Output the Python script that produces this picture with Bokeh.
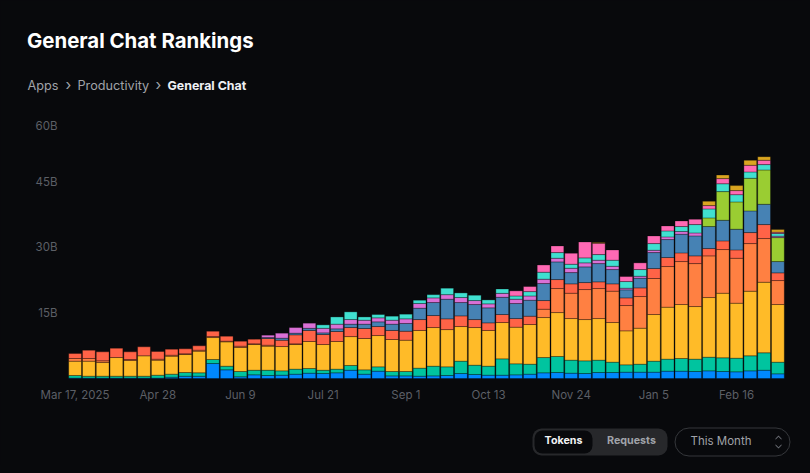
from bokeh.plotting import figure
from bokeh.models import ColumnDataSource, Range1d, FixedTicker, Label, BoxAnnotation, PolyAnnotation
from bokeh.embed import file_html
from bokeh.resources import INLINE
import numpy as np

BG = "#08090c"

# x axis, one bar per week
x_tick_pos = [0, 6, 12, 18, 24, 30, 36, 42, 48]
x_tick_labels = ["Mar 17, 2025", "Apr 28", "Jun 9", "Jul 21", "Sep 1", "Oct 13", "Nov 24", "Jan 5", "Feb 16"]
y_tick_pos = [15, 30, 45, 57.9]  # the top label sits lower than 60 in the original
y_tick_labels = ["15B", "30B", "45B", "60B"]

# top of each stacked segment, in billions of tokens
blue_top = [.1,.1,.1,.1,.1,.1,.1,.3,.53,.53,3.43,1.98,.38,.84,.69,.76,.99,1.22,1.14,1.3,1.9,.99,1.68,.6,.6,.53,.6,.69,1.14,.92,.76,.76,.84,.99,1.3,1.37,1.22,1.14,1.37,1.37,1.45,1.45,1.45,1.68,1.68,1.6,1.75,1.6,1.53,1.75,1.9,1.07]
teal_top = [.69,.53,.53,.53,.53,.53,.76,1.0,1.37,1.3,4.35,2.82,1.6,1.9,1.9,1.75,2.14,2.29,1.9,2.14,2.98,1.98,2.67,1.6,1.6,2.37,2.82,2.67,3.97,3.05,2.82,4.5,3.36,3.28,4.8,5.04,4.2,4.04,4.2,3.74,3.13,3.28,3.97,4.43,4.58,4.43,4.88,4.73,4.65,5.19,5.88,3.74]
yellow_top = [3.97,3.97,3.66,4.8,4.12,5.19,4.2,5.11,5.49,6.26,9.38,8.39,7.1,7.78,7.4,7.32,7.78,8.47,7.78,8.47,9.6,9.16,9.84,8.93,8.77,11.0,11.67,11.2,11.9,11.67,11.0,12.82,11.75,12.36,13.96,15.1,13.73,13.5,13.73,12.82,10.91,11.52,14.65,16.33,16.94,16.48,18.54,19.53,17.24,20.0,22.05,16.94]
orange_top = [4.58,4.58,4.04,4.8,4.35,5.19,4.43,5.34,5.65,6.49,9.6,8.55,7.4,7.94,7.63,7.32,7.94,8.47,7.78,8.47,9.6,9.16,9.84,8.93,8.77,11.0,11.67,11.2,11.9,11.67,11.0,12.82,11.75,12.36,15.87,20.6,19.53,20.37,20.6,20.0,16.71,18.77,22.9,25.64,26.78,26.32,28.08,29.53,27.54,30.9,32.05,22.43]
red_top = [5.72,6.49,6.1,6.94,6.1,7.25,6.18,6.71,6.79,7.48,10.83,9.69,8.55,9.0,9.16,8.77,10.0,11.0,10.07,10.76,11.67,11.45,11.9,11.0,10.83,13.5,14.42,13.66,14.34,13.5,12.74,14.65,13.73,14.27,17.85,22.66,21.67,21.97,22.13,21.67,18.46,20.75,25.18,27.7,28.76,28.08,29.76,31.51,29.45,33.42,35.25,24.19]
steel_top = red_top[:14] + [9.38,9.23,10.38,11.5,10.45,11.37,12.44,12.44,12.97,12.44,12.6,16.1,17.4,18.16,17.4,16.94,16.18,18.6,17.17,17.93,21.75,26.7,24.26,25.56,26.32,24.95,20.3,22.97,28.84,31.82,33.04,32.66,34.8,36.24,34.18,38.38,39.9,26.78]
green_top = steel_top[:46] + [36.78,42.8,40.44,45.86,47.76,32.27]
orchid_top = red_top[:14] + [9.92,10.38,11.67,12.67,11.5,12.44,13.5,13.35,13.89,13.35,13.66,17.17,18.46,19.2,18.54,17.85,17.09,19.5,18.16,18.9,22.74,27.54,25.25,26.48,27.09,25.7,20.68,23.42,29.37,32.43,33.65,33.34,36.78,42.8,40.44,45.86,47.76,32.6]
turq_top = red_top[:14] + [9.92,10.38,11.67,12.67,12.28,14.1,15.26,14.1,14.65,14.27,14.73,17.93,19.2,20.68,19.6,19.07,18.0,20.5,18.9,19.9,24.34,28.84,26.17,27.62,28.38,27.09,22.2,24.95,30.9,33.8,34.8,35.25,38.84,44.6,42.1,47.3,48.98,33.2]
pink_top = turq_top[:32] + [20.07,21.06,26.0,30.37,28.69,31.28,30.98,29.45,23.35,26.48,32.66,34.95,36.09,36.47,39.6,45.78,43.03,48.83,49.98,33.5]
gold_top = pink_top[:38] + [31.13] + pink_top[39:46] + [40.6,46.6,44.18,49.98,50.8,34.1]

series = [
    ("#0088FE", [0] * 52, blue_top),
    ("#00C49F", blue_top, teal_top),
    ("#FFBB28", teal_top, yellow_top),
    ("#FF8042", yellow_top, orange_top),
    ("#FF6347", orange_top, red_top),
    ("#4682B4", red_top, steel_top),
    ("#9ACD32", steel_top, green_top),
    ("#DA70D6", green_top, orchid_top),
    ("#40E0D0", orchid_top, turq_top),
    ("#FF69B4", turq_top, pink_top),
    ("#DAA520", pink_top, gold_top),
]

W, H = 802, 465
BAR_STEP = 13.78   # px per week
PX_PER_B = 4.3667
X0, Y0 = 74.6, 378  # page position of week 0 and of value 0

# the frame fills the whole figure so that the header and buttons can sit in it
p = figure(width=W, height=H, output_backend="svg", toolbar_location=None, min_border=0,
           x_range=Range1d(-X0 / BAR_STEP, (W - X0) / BAR_STEP),
           y_range=Range1d((Y0 - H) / PX_PER_B, Y0 / PX_PER_B))
p.background_fill_color = BG
p.border_fill_color = BG
p.outline_line_color = None
p.grid.visible = False

for color, bottom, top in series:
    bottom = np.array(bottom)
    top = np.array(top)
    keep = top > bottom  # a series can be absent from a week
    src = ColumnDataSource(dict(x=np.arange(52)[keep], bottom=bottom[keep], top=top[keep]))
    p.vbar(x="x", bottom="bottom", top="top", width=0.93, source=src,
           fill_color=color, line_color="#000000", line_alpha=0.3, line_width=1)

for ax in (p.xaxis, p.yaxis):
    ax.axis_line_color = None
    ax.major_tick_line_color = None
    ax.minor_tick_line_color = None
    ax.major_label_text_color = "#5c5f66"
    ax.major_label_text_font = "Inter"
    ax.major_label_text_font_size = "11.5px"
p.xaxis.fixed_location = 0
p.xaxis.ticker = FixedTicker(ticks=x_tick_pos)
p.xaxis.major_label_overrides = dict(zip(x_tick_pos, x_tick_labels))
p.xaxis.major_label_standoff = 3
p.yaxis.fixed_location = (62 - X0) / BAR_STEP
p.yaxis.ticker = FixedTicker(ticks=y_tick_pos)
p.yaxis.major_label_overrides = dict(zip(y_tick_pos, y_tick_labels))
p.yaxis.major_label_standoff = -1


# screen units are measured from the frame's lower left corner
def text(x, y, s, color, size, bold=False, align="left"):
    p.add_layout(Label(x=x, y=H - y, x_units="screen", y_units="screen", text=s, text_color=color,
                       text_font="Inter", text_font_size=size, text_align=align, text_baseline="middle",
                       text_font_style="bold" if bold else "normal"))


def box(l, t, r, b, fill, line=None, radius=0):
    p.add_layout(BoxAnnotation(left=l, right=r, top=H - t, bottom=H - b,
                               left_units="screen", right_units="screen", top_units="screen", bottom_units="screen",
                               fill_color=fill, fill_alpha=1 if fill else 0, line_color=line, line_alpha=1 if line else 0,
                               line_width=1, border_radius=radius, level="annotation"))


def chevron(cx, cy, d):
    xs = [cx - 3, cx, cx + 3, cx + 3, cx, cx - 3]
    ys = [cy, cy + d * 3, cy, cy - d * 1.2, cy + d * 1.8, cy - d * 1.2]
    p.add_layout(PolyAnnotation(xs=xs, ys=[H - v for v in ys], xs_units="screen", ys_units="screen",
                                fill_color="#6c6f76", fill_alpha=1, line_color=None))


box(532, 428, 667, 455, "#27282b", radius=9)
box(534, 430, 592, 453, "#08090c", radius=8)
box(674.5, 427.5, 789.5, 455.5, None, line="#35373b", radius=14)
chevron(778, 438, -1)
chevron(778, 445, 1)

text(26.5, 40, "General Chat Rankings", "#ffffff", "20.4px", bold=True)
text(27, 85, "Apps", "#a0a3a9", "12.7px")
text(65, 84, "›", "#a0a3a9", "15px")
text(77, 85, "Productivity", "#a0a3a9", "12.7px")
text(155, 84, "›", "#a0a3a9", "15px")
text(167, 85, "General Chat", "#eef0f4", "12.4px", bold=True)
text(563, 440, "Tokens", "#f2f3f5", "10.7px", bold=True, align="center")
text(631, 440, "Requests", "#a0a3a9", "10.7px", bold=True, align="center")
text(690, 440, "This Month", "#a0a3a9", "11.5px")

html = file_html(p, INLINE)
html = html.replace("<head>", "<head><style>html,body{background:#08090c}</style>", 1)
open("out.html", "w").write(html)
